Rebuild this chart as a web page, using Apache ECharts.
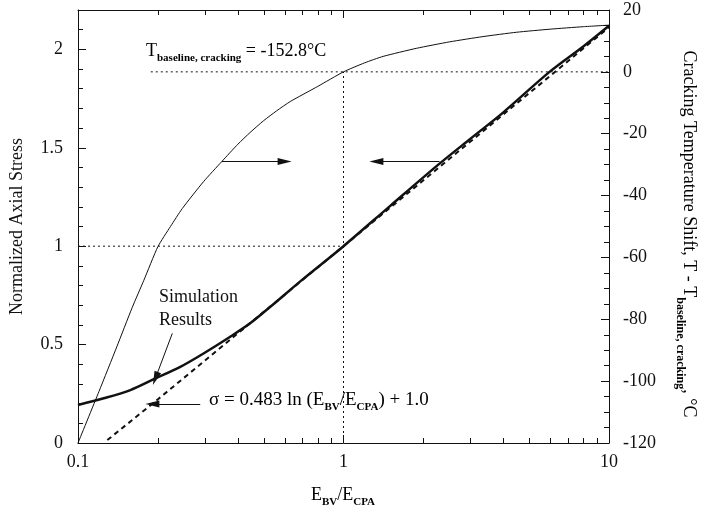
<!DOCTYPE html>
<html>
<head>
<meta charset="utf-8">
<script src="https://cdn.jsdelivr.net/npm/echarts@6/dist/echarts.min.js"></script>
<style>
  html, body { margin: 0; padding: 0; background: #fff; }
  #chart { width: 712px; height: 517px; }
</style>
</head>
<body>
<div id="chart"></div>
<script>
// ---------------- data ----------------
// x: E_BV / E_CPA (log scale)
const xTickLabels = [0.1, 1, 10];
const xMinorTicks = [0.2, 0.3, 0.4, 0.5, 0.6, 0.7, 0.8, 0.9, 2, 3, 4, 5, 6, 7, 8, 9];
const leftTickLabels = [0, 0.5, 1, 1.5, 2];
const rightTickLabels = [-120, -100, -80, -60, -40, -20, 0, 20];

// Simulation results: normalized axial stress (left axis)
const simX = [0.1, 0.125, 0.1575, 0.1956, 0.2428, 0.297, 0.3744, 0.445, 0.53, 0.7, 1, 1.5, 2.27, 3, 4, 6, 8, 10];
const simY = [0.193, 0.227, 0.269, 0.328, 0.387, 0.455, 0.54, 0.608, 0.692, 0.83, 1.0, 1.205, 1.413, 1.545, 1.68, 1.888, 2.015, 2.12];

// Fitted relation sigma = 0.483 ln(E_BV/E_CPA) + 1.0
const fitX = [0.129, 0.2, 0.5, 1, 2, 5, 10];
const fitY = [0.015, 0.222, 0.665, 1.0, 1.335, 1.777, 2.112];

// Cracking temperature shift (right axis)
const tempX = [0.1, 0.12, 0.14, 0.16, 0.177, 0.2, 0.223, 0.247, 0.297, 0.348, 0.4, 0.445, 0.5, 0.56, 0.63, 0.8, 1.0, 1.2, 1.41, 1.88, 2.51, 3.35, 4.48, 6, 8, 10];
const tempY = [-120, -103.3, -88.9, -76.2, -67.4, -56.5, -50, -44.2, -35.5, -29.0, -23.4, -19.6, -15.8, -12.6, -9.6, -4.7, 0, 2.9, 5.0, 7.6, 9.7, 11.4, 12.8, 13.8, 14.6, 15.1];

// Reference (dotted) lines
const refStressLine = [[0.1, 1], [1, 1]];          // left axis
const refVertLine = [[1, -120], [1, 0]];            // right axis
const refTempLine = [[0.188, 0], [10, 0]];          // right axis

// Annotation arrows [from, to]
const arrowTempRight = [[0.348, -29], [0.6, -29]];   // right axis
const arrowStressLeft = [[2.3, -29], [1.33, -29]];   // right axis
const arrowSim = [[0.2266, 0.557], [0.1956, 0.328]]; // left axis
const arrowFit = [[0.2887, 0.198], [0.1906, 0.198]]; // left axis

// ---------------- chart ----------------
const FONT = '"Liberation Serif", "Times New Roman", serif';
const INK = '#111';
const chart = echarts.init(document.getElementById('chart'), null, { renderer: 'canvas' });

const zip = (xs, ys) => xs.map((x, i) => [x, ys[i]]);
const arrowML = (pair) => ({
  silent: true,
  symbol: ['none', 'triangle'],
  symbolSize: [7, 14],
  label: { show: false },
  lineStyle: { color: INK, width: 1, type: 'solid' },
  emphasis: { disabled: true },
  animation: false,
  data: [[{ coord: pair[0] }, { coord: pair[1] }]]
});

const mainRich = (size, subSize, drop) => ({
  m: { fontFamily: FONT, fontSize: size, color: INK, lineHeight: 20, padding: [0, 0, drop, 0] },
  s: { fontFamily: FONT, fontSize: subSize, fontWeight: 'bold', color: INK, lineHeight: subSize + 1, verticalAlign: 'bottom' }
});

const option = {
  animation: false,
  backgroundColor: '#fff',
  grid: { left: 78, right: 103, top: 10, bottom: 74, containLabel: false },
  xAxis: [
    {
      type: 'log', logBase: 10, min: 0.1, max: 10, position: 'bottom',
      axisLine: { show: true, onZero: false, lineStyle: { color: INK, width: 1 } },
      axisTick: { show: true, inside: true, length: 8, lineStyle: { color: INK } },
      axisLabel: {
        show: true, margin: 10, fontFamily: FONT, fontSize: 18, color: INK,
        formatter: (v) => xTickLabels.some(t => Math.abs(t - v) < 1e-9) ? String(v) : ''
      },
      splitLine: { show: false }
    },
    {
      type: 'log', logBase: 10, min: 0.1, max: 10, position: 'top',
      axisLine: { show: true, onZero: false, lineStyle: { color: INK, width: 1 } },
      axisTick: { show: true, inside: true, length: 8, lineStyle: { color: INK } },
      axisLabel: { show: false },
      splitLine: { show: false }
    }
  ],
  yAxis: [
    {
      type: 'value', min: 0, max: 2.2, interval: 0.5, position: 'left',
      name: 'Normalized Axial Stress', nameLocation: 'middle', nameGap: 52, nameRotate: 90,
      nameTextStyle: { fontFamily: FONT, fontSize: 18, color: INK },
      axisLine: { show: true, onZero: false, lineStyle: { color: INK, width: 1 } },
      axisTick: { show: true, inside: true, length: 8, lineStyle: { color: INK } },
      axisLabel: {
        show: true, margin: 15, fontFamily: FONT, fontSize: 18, color: INK,
        formatter: (v) => leftTickLabels.some(t => Math.abs(t - v) < 1e-9) ? String(v) : ''
      },
      splitLine: { show: false }
    },
    {
      type: 'value', min: -120, max: 20, interval: 20, position: 'right',
      axisLine: { show: true, onZero: false, lineStyle: { color: INK, width: 1 } },
      axisTick: { show: true, inside: true, length: 8, lineStyle: { color: INK } },
      minorTick: { show: true, splitNumber: 4, length: 5, lineStyle: { color: INK } },
      axisLabel: {
        show: true, margin: 14, fontFamily: FONT, fontSize: 18, color: INK,
        formatter: (v) => rightTickLabels.includes(Math.round(v)) ? String(Math.round(v)) : ''
      },
      splitLine: { show: false }
    },
    {
      // minor ticks for the left axis
      type: 'value', min: 0, max: 2.2, interval: 0.1, position: 'left',
      axisLine: { show: false, onZero: false },
      axisTick: { show: true, inside: true, length: 5, lineStyle: { color: INK } },
      axisLabel: { show: false },
      splitLine: { show: false }
    }
  ],
  series: [
    {
      name: 'minorXTicks', type: 'custom', xAxisIndex: 0, yAxisIndex: 0, silent: true,
      data: xMinorTicks.map(v => [v, 0]),
      renderItem: (params, api) => {
        const x = api.value(0);
        const b = api.coord([x, 0]);
        const t = api.coord([x, 2.2]);
        const st = { stroke: INK, lineWidth: 1 };
        return {
          type: 'group', children: [
            { type: 'line', shape: { x1: Math.round(b[0]) + 0.5, y1: b[1], x2: Math.round(b[0]) + 0.5, y2: b[1] - 5 }, style: st },
            { type: 'line', shape: { x1: Math.round(t[0]) + 0.5, y1: t[1], x2: Math.round(t[0]) + 0.5, y2: t[1] + 5 }, style: st }
          ]
        };
      }
    },
    {
      name: 'refStress', type: 'line', xAxisIndex: 0, yAxisIndex: 0, symbol: 'none', silent: true,
      data: refStressLine, lineStyle: { color: INK, width: 1, type: [2, 3] }
    },
    {
      name: 'refVert', type: 'line', xAxisIndex: 0, yAxisIndex: 1, symbol: 'none', silent: true,
      data: refVertLine, lineStyle: { color: INK, width: 1, type: [2, 3] }
    },
    {
      name: 'refTemp', type: 'line', xAxisIndex: 0, yAxisIndex: 1, symbol: 'none', silent: true,
      data: refTempLine, lineStyle: { color: INK, width: 1, type: [2, 3] }
    },
    {
      name: 'Temperature shift', type: 'line', xAxisIndex: 0, yAxisIndex: 1, symbol: 'none', smooth: 0.2,
      data: zip(tempX, tempY), lineStyle: { color: INK, width: 1 },
      markLine: arrowML(arrowTempRight)
    },
    {
      name: 'Simulation Results', type: 'line', xAxisIndex: 0, yAxisIndex: 0, symbol: 'none', smooth: 0.3,
      data: zip(simX, simY), lineStyle: { color: INK, width: 2.5 },
      markLine: arrowML(arrowSim)
    },
    {
      name: 'Fit', type: 'line', xAxisIndex: 0, yAxisIndex: 0, symbol: 'none',
      data: zip(fitX, fitY), lineStyle: { color: INK, width: 2, type: [5, 4] },
      markLine: arrowML(arrowFit)
    },
    {
      name: 'arrow2', type: 'line', xAxisIndex: 0, yAxisIndex: 1, symbol: 'none', data: [],
      markLine: arrowML(arrowStressLeft)
    }
  ],
  graphic: [
    {
      type: 'text', x: 146, y: 44, silent: true,
      style: { text: '{m|T}{s|baseline, cracking}{m| = -152.8°C}', rich: mainRich(18, 11, 5) }
    },
    {
      type: 'text', x: 159, y: 286, silent: true,
      style: { text: 'Simulation\nResults', fontFamily: FONT, fontSize: 18, lineHeight: 23, fill: INK }
    },
    {
      type: 'text', x: 209, y: 393, silent: true,
      style: { text: '{m|σ = 0.483 ln (E}{s|BV}{m|/E}{s|CPA}{m|) + 1.0}', rich: mainRich(19, 11, 5) }
    },
    {
      type: 'text', x: 343, y: 488, silent: true,
      style: { text: '{m|E}{s|BV}{m|/E}{s|CPA}', rich: mainRich(18, 11, 5), align: 'center' }
    },
    {
      type: 'text', x: 684, y: 234, rotation: -Math.PI / 2, silent: true,
      style: {
        text: '{m|Cracking Temperature Shift, T - T}{s|baseline, cracking}{m|, °C}',
        rich: mainRich(18, 12, 9), align: 'center', verticalAlign: 'middle'
      }
    }
  ]
};

chart.setOption(option);
</script>
</body>
</html>
